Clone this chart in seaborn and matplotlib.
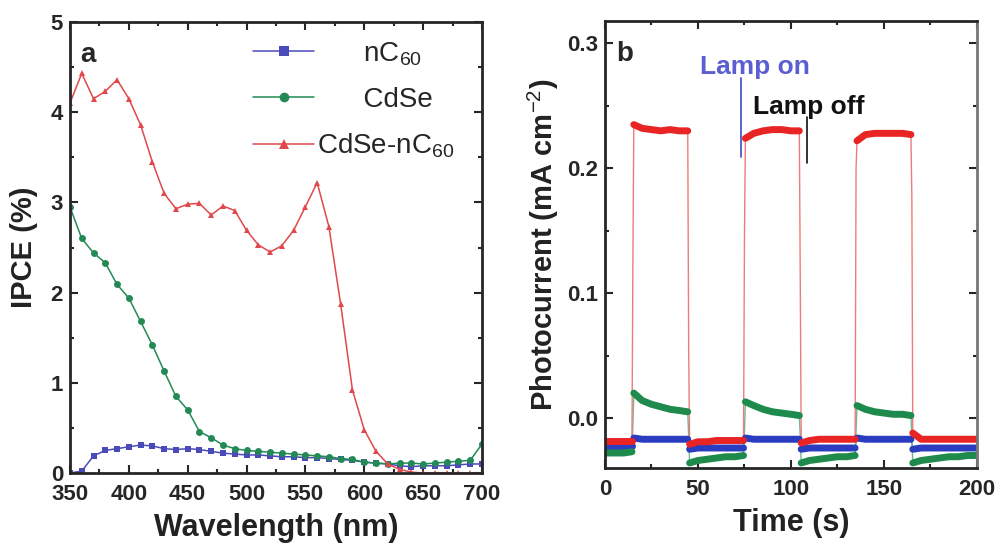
import numpy as np
import pandas as pd
import matplotlib
matplotlib.use('Agg')
import matplotlib.pyplot as plt
import seaborn as sns
from matplotlib.ticker import MultipleLocator

# panel a: IPCE spectra
wavelength = list(range(350, 701, 10))
ipce_nc60 = [0.0, 0.02, 0.19, 0.25, 0.27, 0.29, 0.31, 0.30, 0.27, 0.26,
             0.27, 0.26, 0.24, 0.22, 0.21, 0.20, 0.20, 0.19, 0.18, 0.18,
             0.17, 0.17, 0.16, 0.15, 0.14, 0.12, 0.11, 0.10, 0.08, 0.07,
             0.08, 0.08, 0.08, 0.09, 0.10, 0.10]
ipce_cdse = [2.95, 2.60, 2.44, 2.33, 2.09, 1.94, 1.68, 1.42, 1.13, 0.85,
             0.70, 0.46, 0.39, 0.31, 0.27, 0.25, 0.24, 0.23, 0.22, 0.21,
             0.20, 0.19, 0.18, 0.16, 0.15, 0.12, 0.11, 0.10, 0.11, 0.11,
             0.10, 0.11, 0.12, 0.13, 0.14, 0.32]
ipce_cdse_nc60 = [4.10, 4.43, 4.15, 4.23, 4.36, 4.15, 3.86, 3.45, 3.10, 2.93,
                  2.98, 2.99, 2.86, 2.96, 2.91, 2.69, 2.53, 2.45, 2.52, 2.69,
                  2.95, 3.22, 2.73, 1.87, 0.92, 0.48, 0.24, 0.10, 0.04, 0.01,
                  0.0, 0.0, 0.0, 0.0, 0.0, 0.0]

# panel b: photocurrent transients (lamp on 15-45, 75-105, 135-165 s)
time_s = [0, 5, 10, 14.5, 15,
          15.5, 20, 25, 30, 35, 40, 44.5, 45,
          45.5, 50, 55, 60, 65, 70, 74.5, 75,
          75.5, 80, 85, 90, 95, 100, 104.5, 105,
          105.5, 110, 115, 120, 125, 130, 134.5, 135,
          135.5, 140, 145, 150, 155, 160, 164.5, 165,
          165.5, 170, 175, 180, 185, 190, 195, 200]
phase = ([0] * 4 + [-1] + [1] * 7 + [-1] + [2] * 7 + [-1] + [3] * 7 + [-1]
         + [4] * 7 + [-1] + [5] * 7 + [-1] + [6] * 8)
pc_cdse_nc60 = [-0.018, -0.018, -0.018, -0.018, 0.124,
                0.235, 0.232, 0.231, 0.230, 0.231, 0.230, 0.230, 0.054,
                -0.021, -0.019, -0.019, -0.018, -0.018, -0.018, -0.018, 0.146,
                0.224, 0.228, 0.230, 0.231, 0.231, 0.230, 0.230, 0.110,
                -0.020, -0.018, -0.017, -0.017, -0.017, -0.017, -0.017, 0.200,
                0.222, 0.227, 0.228, 0.228, 0.228, 0.228, 0.227, 0.177,
                -0.012, -0.017, -0.017, -0.017, -0.017, -0.017, -0.017, -0.017]
pc_nc60 = [-0.022, -0.022, -0.022, -0.022, -0.019,
           -0.016, -0.017, -0.017, -0.017, -0.017, -0.017, -0.017, -0.020,
           -0.025, -0.024, -0.024, -0.024, -0.024, -0.024, -0.024, -0.019,
           -0.016, -0.017, -0.017, -0.017, -0.017, -0.017, -0.017, -0.020,
           -0.025, -0.024, -0.024, -0.024, -0.024, -0.024, -0.024, -0.019,
           -0.016, -0.017, -0.017, -0.017, -0.017, -0.017, -0.017, -0.020,
           -0.025, -0.024, -0.024, -0.024, -0.024, -0.024, -0.024, -0.024]
pc_cdse = [-0.028, -0.028, -0.028, -0.027, -0.005,
           0.020, 0.014, 0.011, 0.009, 0.007, 0.006, 0.005, -0.015,
           -0.036, -0.034, -0.033, -0.032, -0.031, -0.031, -0.030, -0.010,
           0.013, 0.010, 0.007, 0.005, 0.004, 0.003, 0.002, -0.015,
           -0.036, -0.034, -0.033, -0.032, -0.031, -0.031, -0.030, -0.010,
           0.010, 0.007, 0.005, 0.004, 0.003, 0.003, 0.002, -0.015,
           -0.036, -0.034, -0.033, -0.032, -0.031, -0.031, -0.030, -0.030]

sample_labels = ['nC$_{60}$', 'CdSe', 'CdSe-nC$_{60}$']
legend_labels = ['      nC$_{60}$', '      CdSe', 'CdSe-nC$_{60}$']
colors_a = ['#4a4ab8', '#238a55', '#e0484c']
colors_b = ['#2a3cc0', '#1e8a4c', '#e82424']

sns.set_style('ticks')
plt.rcParams['font.family'] = ['Liberation Sans', 'DejaVu Sans']
plt.rcParams['axes.linewidth'] = 2
plt.rcParams['mathtext.fontset'] = 'custom'
plt.rcParams['mathtext.rm'] = 'Liberation Sans'

df_a = pd.DataFrame({
    'wavelength': wavelength * 3,
    'ipce': ipce_nc60 + ipce_cdse + ipce_cdse_nc60,
    'sample': [s for s in sample_labels for _ in wavelength],
})

df_b = pd.DataFrame({
    'time': time_s * 3,
    'current': pc_nc60 + pc_cdse + pc_cdse_nc60,
    'phase': phase * 3,
    'sample': [s for s in sample_labels for _ in time_s],
})

fig = plt.figure(figsize=(9.98, 5.46), dpi=100)
ax1 = fig.add_axes([0.0701, 0.1337, 0.4128, 0.826])
ax2 = fig.add_axes([0.6062, 0.1429, 0.3727, 0.8187])

# ---- panel a
sns.lineplot(data=df_a, x='wavelength', y='ipce', hue='sample', style='sample',
             hue_order=sample_labels, style_order=sample_labels,
             palette=colors_a, markers={sample_labels[0]: 's', sample_labels[1]: 'o',
                                        sample_labels[2]: '^'},
             dashes=False, markersize=5, markeredgewidth=0, linewidth=1.1,
             ax=ax1)
ax1.set_xlim(350, 700)
ax1.set_ylim(0, 5)
ax1.xaxis.set_major_locator(MultipleLocator(50))
ax1.xaxis.set_minor_locator(MultipleLocator(25))
ax1.yaxis.set_major_locator(MultipleLocator(1))
ax1.yaxis.set_minor_locator(MultipleLocator(0.5))
ax1.set_xlabel('Wavelength (nm)', fontsize=22, fontweight='bold', color='#222222', labelpad=6)
ax1.set_ylabel('IPCE (%)', fontsize=21, fontweight='bold', color='#222222', labelpad=9)
ax1.text(0.025, 0.955, 'a', transform=ax1.transAxes, fontsize=20, fontweight='bold',
         va='top', ha='left')
handles, _ = ax1.get_legend_handles_labels()
for h in handles:
    h.set_markersize(7)
ax1.legend(handles, legend_labels, loc='upper left', bbox_to_anchor=(0.445, 0.96),
           frameon=False, fontsize=20, handlelength=2.2, handletextpad=0.1,
           labelspacing=0.68, borderpad=0, borderaxespad=0)

# ---- panel b
sns.lineplot(data=df_b, x='time', y='current', hue='sample', hue_order=sample_labels,
             palette=['#6f78d8', '#6fb890', '#f07a7a'], estimator=None, sort=False,
             linewidth=1.0, legend=False, ax=ax2)
plateaus = df_b[df_b['phase'] >= 0]
sns.lineplot(data=plateaus, x='time', y='current', hue='sample', hue_order=sample_labels,
             units='phase', estimator=None, palette=colors_b, linewidth=5,
             legend=False, ax=ax2)
ax2.set_xlim(0, 200)
ax2.set_ylim(-0.04, 0.318)
ax2.xaxis.set_major_locator(MultipleLocator(50))
ax2.xaxis.set_minor_locator(MultipleLocator(25))
ax2.set_yticks([0.0, 0.1, 0.2, 0.3])
ax2.set_yticklabels(['0.0', '0.1', '0.2', '0.3'])
ax2.yaxis.set_minor_locator(MultipleLocator(0.05))
ax2.set_xlabel('Time (s)', fontsize=22, fontweight='bold', color='#222222', labelpad=6)
ax2.set_ylabel('Photocurrent (mA cm$^{-2}$)', fontsize=21, fontweight='bold',
               color='#222222', labelpad=4)
ax2.text(0.03, 0.955, 'b', transform=ax2.transAxes, fontsize=20, fontweight='bold',
         va='top', ha='left')
ax2.text(51, 0.281, 'Lamp on', color='#5a5ed0', fontsize=19, fontweight='bold', va='center')
ax2.text(79.5, 0.249, 'Lamp off', color='#111111', fontsize=19, fontweight='bold', va='center')
ax2.plot([73, 73], [0.272, 0.209], color='#3a4cc0', lw=1.2)
ax2.plot([108.5, 108.5], [0.241, 0.204], color='#111111', lw=1.2)
ax2.spines['right'].set_color('#777777')

for ax in (ax1, ax2):
    ax.tick_params(which='both', direction='in', top=True, right=True,
                   labelsize=16, width=1.5)
    ax.tick_params(axis='x', pad=8)
    ax.tick_params(axis='y', pad=5)
    ax.tick_params(which='major', length=6)
    ax.tick_params(which='minor', length=3)
    for lab in ax.get_xticklabels() + ax.get_yticklabels():
        lab.set_fontweight('bold')

fig.savefig('out.png', dpi=100)
plt.close(fig)
